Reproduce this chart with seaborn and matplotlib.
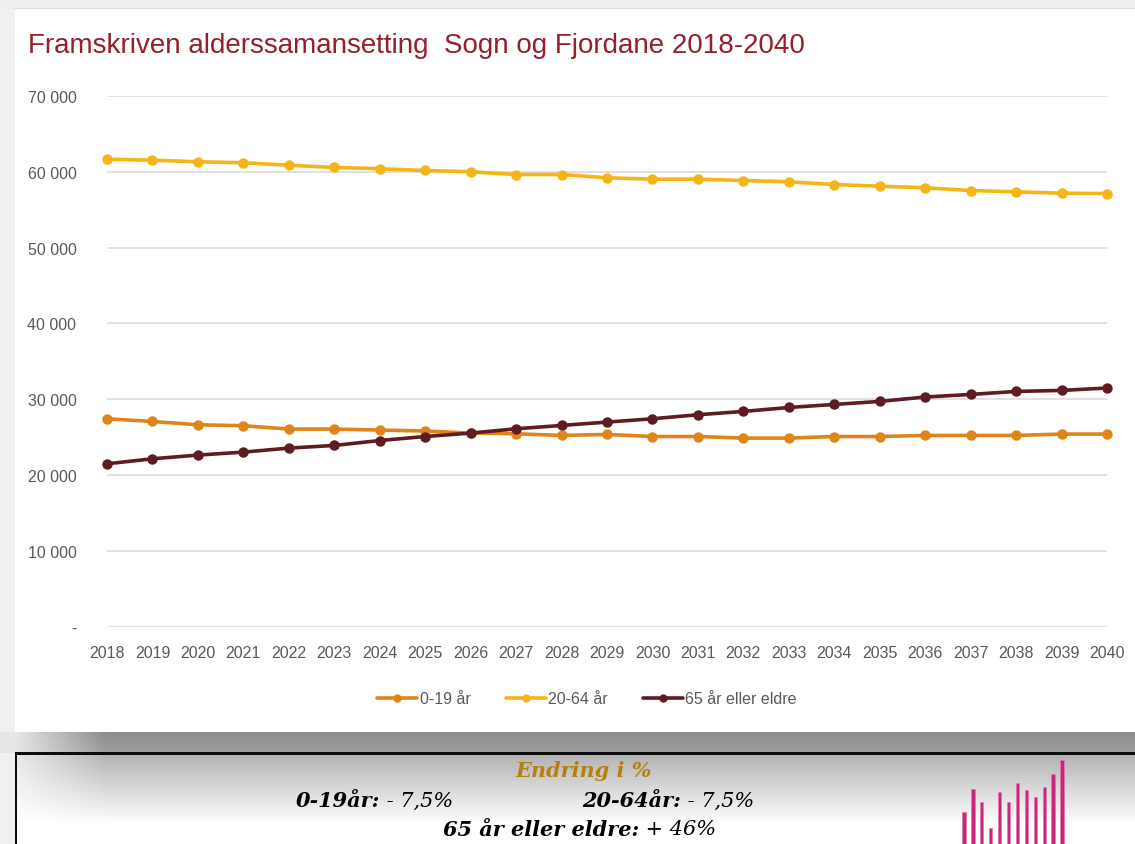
import matplotlib
matplotlib.use("Agg")
import matplotlib.pyplot as plt
from matplotlib.ticker import FuncFormatter, MultipleLocator
from matplotlib.lines import Line2D
import seaborn as sns
import numpy as np

# data
years = list(range(2018, 2041))
age_0_19 = [27410, 27050, 26620, 26490, 26050, 26050, 25920, 25790, 25520, 25430, 25210, 25340,
            25070, 25070, 24860, 24860, 25070, 25070, 25210, 25210, 25210, 25390, 25390]
age_20_64 = [61660, 61530, 61320, 61190, 60870, 60570, 60400, 60170, 60000, 59640, 59640, 59210,
             59020, 59020, 58850, 58680, 58320, 58100, 57890, 57530, 57360, 57170, 57130]
age_65 = [21470, 22130, 22620, 23010, 23540, 23890, 24540, 25070, 25520, 26090, 26530, 26970,
          27410, 27940, 28380, 28900, 29300, 29700, 30280, 30620, 31020, 31150, 31470]
series_labels = ["0-19 år", "20-64 år", "65 år eller eldre"]
series_colors = ["#DF8419", "#F6B417", "#5E1C22"]

# change summary in the box below the chart
change_rows = [
    ("0-19år:", " - 7,5%"),
    ("20-64år:", " - 7,5%"),
    ("65 år eller eldre:", " + 46%"),
]

# decorative icon bottom right
icon_heights = [32, 55, 42, 16, 52, 42, 61, 54, 47, 57, 70, 84]

W, H = 1135, 845

sns.set_theme(style="white")
plt.rcParams["font.family"] = ["Liberation Sans", "DejaVu Sans"]

fig = plt.figure(figsize=(W / 100, H / 100), dpi=100)


def fx(x):
    return x / W


def fy(y):
    return 1 - y / H


# background: grey surround, white card, shadow band, lower box gradient
bg = np.full((H, W), 0.94)
xx = np.arange(W)
left_fade = np.clip((xx - 15) / 90.0, 0, 1)
bg[:10, :] = 0.93
bg[9:11, 15:] = 0.85
bg[10:733, 15:] = 1.0
shadow = 0.55 + 0.07 * np.linspace(0, 1, 754 - 733)[:, None]
bg[733:754, :] = 0.9 - (0.9 - shadow) * left_fade[None, :]
grad = np.clip(np.linspace(0.70, 1.08, 845 - 755), 0, 1)[:, None]
bg[755:, 17:] = 1.0 - (1.0 - grad) * (0.3 + 0.7 * left_fade[None, 17:])
bg[753:756, 15:] = 0.05
bg[753:, 15:17] = 0.05
bg_ax = fig.add_axes([0, 0, 1, 1], zorder=-10)
bg_ax.imshow(bg, cmap="gray", vmin=0, vmax=1, aspect="auto", interpolation="bilinear")
bg_ax.axis("off")

# main chart
ax = fig.add_axes([fx(107), fy(627.5), fx(1107) - fx(107), fy(97) - fy(627.5)])
ax.patch.set_alpha(0)
for vals, lab, col in zip([age_0_19, age_20_64, age_65], series_labels, series_colors):
    sns.lineplot(x=years, y=vals, ax=ax, color=col, linewidth=2.6, marker="o",
                 markersize=7.5, markeredgewidth=0, label=lab, clip_on=False, zorder=3)

ax.set_xlim(2018, 2040)
ax.set_ylim(0, 70000)
ax.yaxis.set_major_locator(MultipleLocator(10000))
ax.yaxis.set_major_formatter(FuncFormatter(lambda v, p: "-" if v == 0 else f"{v:,.0f}".replace(",", " ")))
ax.set_xticks(years)
ax.set_xticklabels([str(y) for y in years])
ax.grid(axis="y", color="#d9d9d9", linewidth=1.1)
ax.grid(axis="x", visible=False)
for s in ax.spines.values():
    s.set_visible(False)
ax.tick_params(axis="y", length=0, pad=22, labelsize=11.5, labelcolor="#595959")
ax.tick_params(axis="x", length=0, pad=13, labelsize=11.5, labelcolor="#595959")
ax.set_xlabel("")
ax.set_ylabel("")
ax.get_legend().remove()

handles = [Line2D([], [], color=c, linewidth=2.6, marker="o", markersize=6, markeredgewidth=0)
           for c in series_colors]
fig.legend(handles, series_labels, loc="center", bbox_to_anchor=(fx(587), fy(700)), ncol=3,
           frameon=False, fontsize=11.5, handlelength=2.5, handletextpad=0.15, columnspacing=2.2,
           labelcolor="#595959")

fig.text(fx(28), fy(46), "Framskriven alderssamansetting  Sogn og Fjordane 2018-2040",
         ha="left", va="center", fontsize=20, color="#951F2A")

# lower info box
serif = ["DejaVu Serif"]
fig.text(fx(584), fy(771), "Endring i %", ha="center", va="center", fontsize=15,
         color="#B5800F", fontweight="bold", fontstyle="italic", family=serif)

fig.canvas.draw()
renderer = fig.canvas.get_renderer()
row_pos = [(296, 801), (582, 801), (443, 830)]
for (bold, reg), (x0, y0) in zip(change_rows, row_pos):
    t = fig.text(fx(x0), fy(y0), bold, ha="left", va="center", fontsize=15, color="black",
                 fontweight="bold", fontstyle="italic", family=serif)
    bb = t.get_window_extent(renderer)
    fig.text(bb.x1 / W, fy(y0), reg, ha="left", va="center", fontsize=15, color="black",
             fontstyle="italic", family=serif)

icon_ax = fig.add_axes([fx(959.5), 0, fx(1066.5) - fx(959.5), 87 / H])
icon_ax.patch.set_alpha(0)
icon_ax.bar(range(len(icon_heights)), icon_heights, width=0.38, color="#C8267A",
            edgecolor="#E07AAE", linewidth=0.5)
icon_ax.set_xlim(-0.5, len(icon_heights) - 0.5)
icon_ax.set_ylim(0, 87)
icon_ax.axis("off")

fig.savefig("out.png", dpi=100)
